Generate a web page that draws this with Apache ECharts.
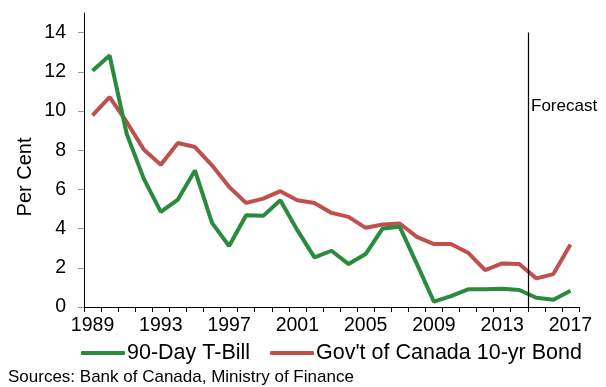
<!DOCTYPE html>
<html>
<head>
<meta charset="utf-8">
<script src="https://cdn.jsdelivr.net/npm/echarts@6/dist/echarts.min.js"></script>
<style>
  html, body { margin: 0; padding: 0; background: #fff; }
  #chart { width: 606px; height: 387px; }
</style>
</head>
<body>
<div id="chart"></div>
<script>
// Annual interest rates, per cent
const years = [];
for (let y = 1989; y <= 2017; y++) years.push(String(y));

const tBill = [12.05, 12.83, 8.84, 6.55, 4.85, 5.48, 6.97, 4.29, 3.11, 4.68,
               4.65, 5.45, 3.92, 2.53, 2.87, 2.19, 2.70, 4.01, 4.09, 2.20,
               0.27, 0.56, 0.90, 0.90, 0.93, 0.87, 0.47, 0.37, 0.83];

const bond10 = [9.78, 10.71, 9.44, 8.04, 7.26, 8.37, 8.16, 7.23, 6.13, 5.31,
                5.53, 5.91, 5.45, 5.31, 4.80, 4.60, 4.04, 4.21, 4.26, 3.58,
                3.21, 3.21, 2.77, 1.88, 2.22, 2.19, 1.46, 1.68, 3.19];

// forecast period begins after this many categories
const forecastStart = 26;

// y axis runs a little past the last labelled tick
const yMax = 15;
const yTickValues = [0, 2, 4, 6, 8, 10, 12, 14];

const chart = echarts.init(document.getElementById('chart'));
const font = 'Liberation Sans, Arial, sans-serif';

chart.setOption({
  animation: false,
  textStyle: { fontFamily: font },
  grid: { left: 84, right: 27, top: 13, bottom: 80 },
  xAxis: [{
    type: 'category',
    data: years,
    boundaryGap: true,
    axisLine: { lineStyle: { color: '#000', width: 1 } },
    axisTick: { show: true, interval: 0, length: 5, lineStyle: { color: '#000' } },
    axisLabel: { interval: 3, color: '#000', fontSize: 19.5, fontFamily: font, margin: 9 }
  }, {
    type: 'value',
    min: 0, max: years.length,
    show: false
  }],
  yAxis: {
    type: 'value',
    min: 0, max: yMax,
    axisLine: { show: true, lineStyle: { color: '#000', width: 1 } },
    axisTick: { show: true, length: 6, customValues: yTickValues, lineStyle: { color: '#999' } },
    splitLine: { show: false },
    axisLabel: { color: '#000', fontSize: 19.5, fontFamily: font, margin: 18, customValues: yTickValues }
  },
  legend: {
    bottom: 18,
    left: 76,
    itemWidth: 44,
    itemHeight: 4,
    itemGap: 20,
    icon: 'roundRect',
    textStyle: { color: '#000', fontSize: 21.5, fontFamily: font, padding: [0, 0, 0, -3] },
    data: ['90-Day T-Bill', "Gov't of Canada 10-yr Bond"]
  },
  graphic: [{
    type: 'text',
    x: 25, y: 177,
    rotation: Math.PI / 2,
    style: { text: 'Per Cent', fill: '#000', font: '20px ' + font, align: 'center', verticalAlign: 'middle' }
  }, {
    type: 'text',
    left: 8, top: 369,
    style: { text: 'Sources: Bank of Canada, Ministry of Finance', fill: '#000', font: '17px ' + font }
  }, {
    type: 'text',
    left: 531, top: 98,
    style: { text: 'Forecast', fill: '#000', font: '17px ' + font }
  }],
  series: [{
    name: '90-Day T-Bill',
    type: 'line',
    data: tBill,
    symbol: 'none',
    itemStyle: { color: '#2A8A3E' },
    lineStyle: { color: '#2A8A3E', width: 4 },
    z: 3
  }, {
    name: "Gov't of Canada 10-yr Bond",
    type: 'line',
    data: bond10,
    symbol: 'none',
    itemStyle: { color: '#C0504D' },
    lineStyle: { color: '#C0504D', width: 4 },
    z: 2
  }, {
    type: 'line',
    xAxisIndex: 1,
    data: [],
    silent: true,
    markLine: {
      symbol: 'none',
      silent: true,
      label: { show: false },
      lineStyle: { color: '#000', width: 1.2, type: 'solid' },
      data: [[{ xAxis: forecastStart, yAxis: 0 }, { xAxis: forecastStart, yAxis: 14 }]]
    }
  }]
});
</script>
</body>
</html>
